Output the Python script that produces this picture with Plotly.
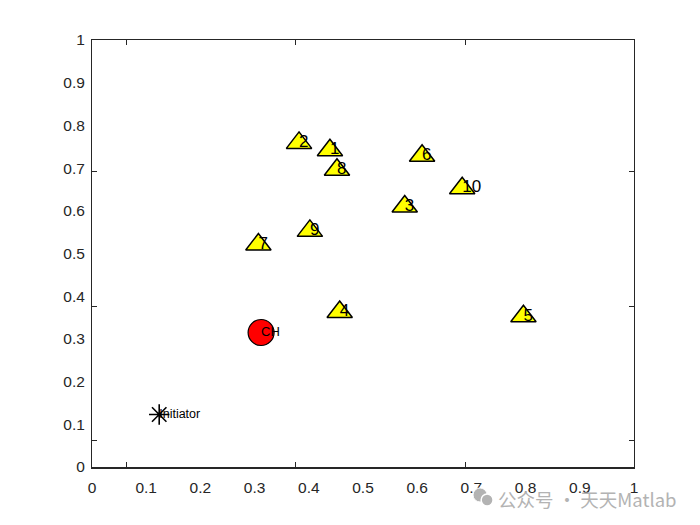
import plotly.graph_objects as go

# Data
node_labels = ["1", "2", "3", "4", "5", "6", "7", "8", "9", "10"]
node_x = [0.439, 0.382, 0.577, 0.457, 0.796, 0.609, 0.307, 0.452, 0.402, 0.683]
node_y = [0.742, 0.759, 0.610, 0.363, 0.353, 0.729, 0.521, 0.696, 0.553, 0.653]

ch_label = ["CH"]
ch_x = [0.312]
ch_y = [0.315]

init_label = ["Initiator"]
init_x = [0.124]
init_y = [0.123]

tick_vals = [0, 0.1, 0.2, 0.3, 0.4, 0.5, 0.6, 0.7, 0.8, 0.9, 1]
tick_text = ["0", "0.1", "0.2", "0.3", "0.4", "0.5", "0.6", "0.7", "0.8", "0.9", "1"]
mark_vals_x = [0.063, 0.375, 0.689]
mark_vals_y = [0.063, 0.377, 0.691]

FONT = "Liberation Sans, Arial, sans-serif"
TXT = "#262626"
WM = "#b3b3b3"

fig = go.Figure()

# nodes (triangles)
fig.add_trace(go.Scatter(
    x=node_x, y=node_y, mode="markers",
    marker=dict(symbol="triangle-up", size=22, color="#ffff00",
                line=dict(color="black", width=1.5)),
    hoverinfo="skip", showlegend=False))
# cluster head
fig.add_trace(go.Scatter(
    x=ch_x, y=ch_y, mode="markers",
    marker=dict(symbol="circle", size=26, color="#ff0000",
                line=dict(color="black", width=1.2)),
    hoverinfo="skip", showlegend=False))
# initiator
fig.add_trace(go.Scatter(
    x=init_x, y=init_y, mode="markers",
    marker=dict(symbol="asterisk-open", size=17, color="black",
                line=dict(color="black", width=1.6)),
    hoverinfo="skip", showlegend=False))

# labels
fig.add_trace(go.Scatter(
    x=node_x, y=node_y, mode="text", text=node_labels,
    textposition="middle right", textfont=dict(family=FONT, size=17, color="black"),
    hoverinfo="skip", showlegend=False))
fig.add_trace(go.Scatter(
    x=ch_x, y=ch_y, mode="text", text=ch_label,
    textposition="middle right", textfont=dict(family=FONT, size=13, color="black"),
    hoverinfo="skip", showlegend=False))
fig.add_trace(go.Scatter(
    x=init_x, y=init_y, mode="text", text=init_label,
    textposition="middle right", textfont=dict(family=FONT, size=12.5, color="black"),
    hoverinfo="skip", showlegend=False))

# dummy trace for tick-mark axes
fig.add_trace(go.Scatter(x=[None], y=[None], xaxis="x2", yaxis="y2",
                         showlegend=False, hoverinfo="skip"))

fig.update_layout(
    width=700, height=525,
    margin=dict(l=84, r=74, t=32, b=66),
    paper_bgcolor="white", plot_bgcolor="white",
    font=dict(family=FONT, color=TXT),
    xaxis=dict(range=[0, 1], tickvals=tick_vals, ticktext=tick_text,
               ticks="", showgrid=False, zeroline=False, ticklabelstandoff=5,
               showline=True, linecolor="#262626", linewidth=2, mirror=False,
               tickfont=dict(size=15.5, color=TXT, family=FONT)),
    yaxis=dict(range=[0, 1], tickvals=tick_vals, ticktext=tick_text,
               ticks="", showgrid=False, zeroline=False, ticklabelstandoff=3,
               showline=True, linecolor="#262626", linewidth=1, mirror=False,
               tickfont=dict(size=15.5, color=TXT, family=FONT)),
    xaxis2=dict(range=[0, 1], overlaying="x", anchor="y2", side="bottom",
                tickvals=mark_vals_x, ticks="inside", ticklen=5, tickwidth=1,
                tickcolor="#262626", showticklabels=False, showgrid=False,
                zeroline=False, showline=True, linecolor="#262626", linewidth=1,
                mirror="ticks"),
    yaxis2=dict(range=[0, 1], overlaying="y", anchor="x2", side="left",
                tickvals=mark_vals_y, ticks="inside", ticklen=5, tickwidth=1,
                tickcolor="#262626", showticklabels=False, showgrid=False,
                zeroline=False, showline=True, linecolor="#262626", linewidth=1,
                mirror="ticks"),
    shapes=[
        dict(type="circle", xref="paper", yref="paper",
             x0=0.703, x1=0.729, y0=-0.082, y1=-0.049,
             fillcolor=WM, line=dict(color="white", width=1)),
        dict(type="circle", xref="paper", yref="paper",
             x0=0.718, x1=0.740, y0=-0.0913, y1=-0.0632,
             fillcolor=WM, line=dict(color="white", width=1.5)),
    ],
    annotations=[dict(
        text="公众号 · 天天Matlab", xref="paper", yref="paper",
        x=0.745, y=-0.074, xanchor="left", yanchor="middle", showarrow=False,
        font=dict(family="Noto Sans CJK SC", size=18.5, color=WM))],
)

fig.write_html("out.html")
